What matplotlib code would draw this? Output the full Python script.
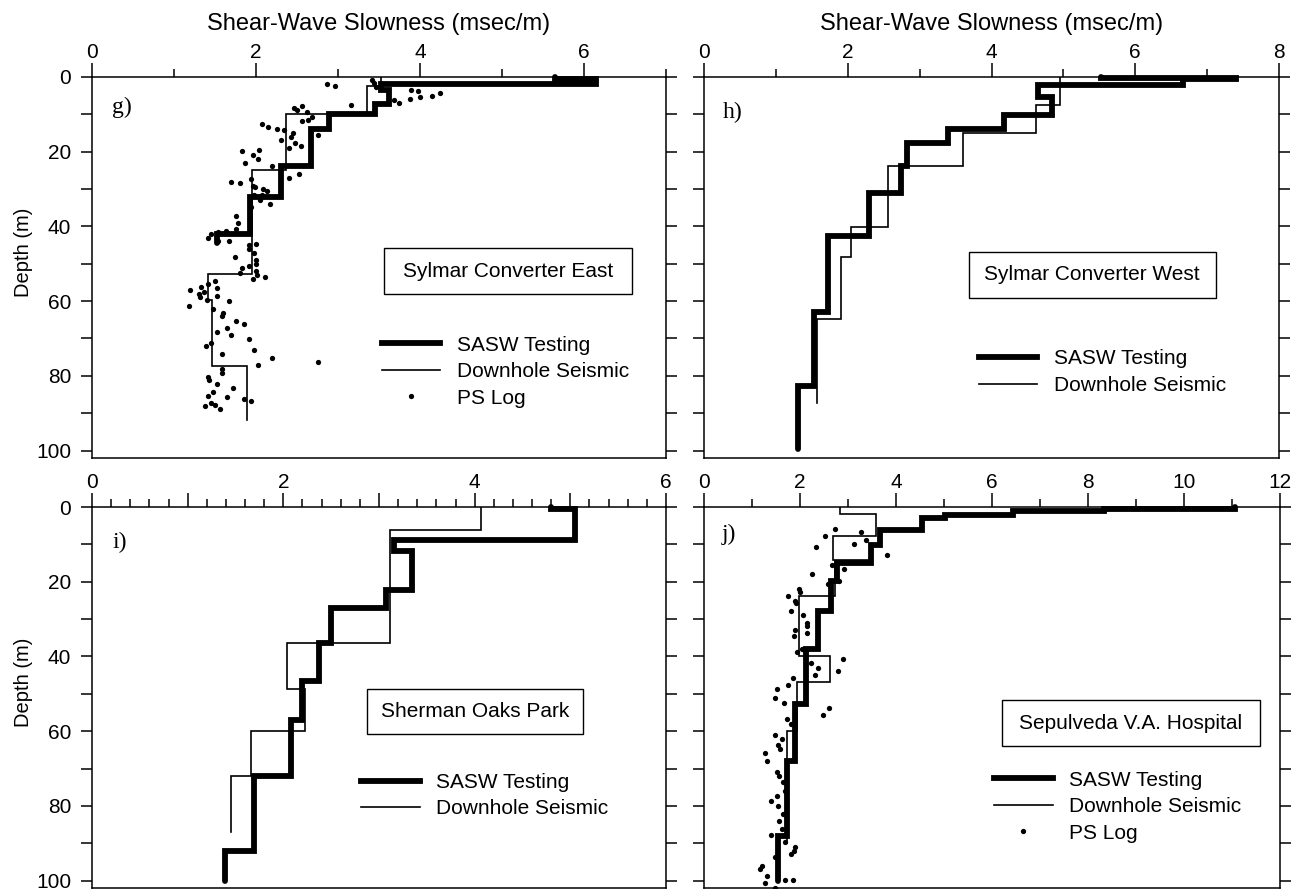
import numpy as np
import matplotlib
matplotlib.use('Agg')
import matplotlib.pyplot as plt
from matplotlib.patches import Rectangle
from matplotlib.lines import Line2D
from matplotlib.ticker import MultipleLocator, FuncFormatter

plt.rcParams['font.family'] = ['Liberation Sans', 'DejaVu Sans']

# ---- g) Sylmar Converter East ----
g_sasw_d = [0, 0.6, 2.0, 3.6, 7.3, 9.8, 13.8, 23.8, 32.1, 42.0, 44.4]
g_sasw_v = [5.65, 6.15, 3.52, 3.62, 3.45, 2.89, 2.67, 2.30, 1.93, 1.53]
g_dh_d = [0, 2.5, 9.8, 24.8, 52.7, 59.6, 77.5, 91.7]
g_dh_v = [3.52, 3.35, 2.36, 1.95, 1.41, 1.46, 1.89]
g_ps_x = [2.86, 2.96, 3.42, 3.44, 3.46, 3.89, 3.97, 4.00, 3.88, 4.15, 4.24, 3.68, 3.74, 3.16,
          2.46, 2.56, 2.50, 2.62, 2.68, 2.64, 2.56, 2.07, 2.15, 2.26, 2.34, 2.30, 2.45, 2.43,
          2.48, 2.55, 2.75, 2.40, 1.83, 2.04, 1.96, 2.03, 1.86, 2.19, 2.40, 2.53, 1.70, 1.80,
          1.94, 1.96, 1.99, 2.09, 2.14, 2.07, 1.97, 2.05, 2.17, 1.94,
          1.76, 1.78, 1.76, 1.63, 1.54, 1.45, 1.41, 1.67, 1.54, 1.91, 2.00, 1.91, 1.97, 1.74,
          2.00, 2.00, 1.83, 1.91, 1.80, 2.00, 2.01, 2.11, 1.96, 1.50, 1.42, 1.33, 1.19, 1.52,
          1.37, 1.30, 1.32, 1.40, 1.18, 1.53, 1.67, 1.48, 1.60, 1.58, 1.76, 1.85, 1.65, 1.53,
          1.70, 1.91, 1.39, 1.45, 1.98, 1.59, 2.19, 2.03, 2.75, 1.59, 1.59, 1.42, 1.43, 1.52,
          1.72, 1.47, 1.41, 1.65, 1.85, 1.94, 1.45, 1.50, 1.38, 1.56]
g_ps_d = [1.8, 2.3, 0.9, 1.6, 2.8, 3.4, 3.8, 5.4, 5.9, 5.0, 4.4, 6.2, 6.9, 7.4,
          8.3, 7.8, 8.9, 9.4, 10.7, 11.4, 11.9, 12.5, 13.4, 13.8, 14.3, 16.8, 15.0, 16.2,
          17.8, 18.5, 15.4, 18.9, 19.9, 19.5, 21.0, 22.0, 22.9, 23.9, 27.0, 25.9, 28.0, 28.5,
          27.4, 29.1, 29.5, 30.0, 30.5, 31.7, 31.7, 33.0, 34.0, 34.8,
          37.1, 39.0, 40.6, 41.1, 41.5, 42.0, 43.0, 43.9, 43.9, 45.1, 44.6, 46.0, 47.0, 48.1,
          49.1, 50.0, 51.1, 50.6, 52.6, 52.0, 52.9, 53.6, 54.2, 54.6, 55.4, 56.1, 57.1, 56.6,
          57.6, 58.2, 58.9, 59.6, 61.2, 58.7, 60.1, 62.0, 63.1, 64.0, 65.2, 66.2, 67.1, 68.2,
          69.2, 70.2, 72.1, 71.2, 73.2, 74.2, 75.2, 77.1, 76.2, 78.1, 79.2, 80.2, 81.2, 82.2,
          83.3, 84.3, 85.3, 85.7, 86.3, 86.8, 87.2, 87.7, 88.2, 88.8]

# ---- h) Sylmar Converter West ----
h_sasw_d = [0, 0.3, 0.6, 2.2, 5.3, 10.1, 13.8, 17.6, 23.9, 31.0, 42.7, 62.8, 82.8, 99.7]
h_sasw_v = [5.52, 7.40, 6.67, 4.65, 4.84, 4.18, 3.39, 2.82, 2.74, 2.29, 1.72, 1.53, 1.31]
h_dh_d = [0, 7.6, 15.0, 23.9, 40.1, 48.1, 64.7, 87.3]
h_dh_v = [4.95, 4.62, 3.60, 2.56, 2.04, 1.91, 1.57]

# ---- i) Sherman Oaks Park ----
i_sasw_d = [0, 0.4, 8.7, 11.7, 22.1, 27.0, 36.3, 46.6, 57.0, 72.0, 92.0, 100.0]
i_sasw_v = [4.80, 5.05, 3.16, 3.34, 3.07, 2.50, 2.37, 2.19, 2.08, 1.69, 1.39]
i_dh_d = [0, 6.1, 36.3, 48.8, 59.9, 72.0, 87.1]
i_dh_v = [4.07, 3.12, 2.04, 2.23, 1.66, 1.45]

# ---- j) Sepulveda V.A. Hospital ----
j_sasw_d = [0, 0.4, 1.0, 2.0, 2.9, 6.1, 10.1, 15.0, 19.9, 27.7, 37.9, 52.8, 67.9, 88.0, 100.0]
j_sasw_v = [11.07, 8.33, 6.44, 5.03, 4.54, 3.67, 3.48, 2.77, 2.64, 2.37, 2.13, 1.90, 1.72, 1.55]
j_dh_d = [0, 1.8, 7.8, 14.1, 15.0, 23.9, 39.9, 46.8, 59.9, 90.0]
j_dh_v = [2.83, 3.59, 2.69, 3.42, 2.72, 1.98, 2.63, 1.93, 1.74]
j_ps_x = [2.73, 3.28, 2.53, 3.38, 2.33, 3.13, 3.82, 2.92, 2.67, 2.25, 2.81, 2.59, 1.97, 2.01,
          1.75, 1.89, 1.91, 1.82, 2.06, 2.15, 2.14, 1.89, 2.15, 1.87, 1.93, 2.05, 2.89, 2.22,
          2.37, 2.31, 2.80, 1.85, 1.76, 1.52, 1.48, 1.67, 2.61, 2.49, 1.72, 1.82, 1.47, 1.62,
          1.55, 1.58, 1.28, 1.32, 1.52, 1.56, 1.64, 1.68, 1.52, 1.40, 1.55, 1.64, 1.56, 1.63,
          1.40, 1.68, 1.90, 1.87, 1.82, 1.47, 1.20, 1.16, 1.32, 1.28, 1.47, 1.68, 1.85]
j_ps_d = [5.8, 6.7, 7.8, 8.7, 10.8, 9.9, 12.8, 16.7, 15.6, 17.8, 19.9, 20.7, 21.9, 22.8,
          23.9, 25.2, 25.8, 27.9, 28.8, 31.0, 31.9, 32.8, 33.8, 34.6, 38.7, 37.9, 40.8, 41.7,
          43.0, 44.9, 43.9, 45.9, 47.7, 48.8, 51.0, 52.5, 53.9, 55.7, 56.8, 58.1, 61.0, 62.2,
          63.8, 64.8, 65.9, 67.9, 70.9, 72.0, 73.7, 76.0, 77.3, 78.6, 80.0, 82.2, 84.0, 86.2,
          87.8, 89.8, 91.1, 92.0, 92.9, 93.8, 96.0, 96.9, 98.7, 100.7, 102.0, 99.8, 99.8]

FS = 15


def profile(d, v):
    d = np.asarray(d)
    return np.repeat(v, 2), np.column_stack([d[:-1], d[1:]]).ravel()


def panel(ax, letter, site, sasw, dh, ps, xmax, xmajor, xminor, box, leg, ylab):
    x, y = profile(*sasw)
    ax.plot(x, y, color='black', lw=4.2, solid_joinstyle='miter',
            solid_capstyle='round', clip_on=False, zorder=3)
    x, y = profile(*dh)
    ax.plot(x, y, color='black', lw=1.2, solid_joinstyle='miter', zorder=2)
    handles = [Line2D([], [], color='black', lw=4.2, label='SASW Testing'),
               Line2D([], [], color='black', lw=1.2, label='Downhole Seismic')]
    if ps is not None:
        ax.plot(ps[0], ps[1], 'o', color='black', ms=3.8, mew=0, zorder=4)
        handles.append(Line2D([], [], color='black', ls='none', marker='o',
                              ms=3.8, mew=0, label='PS Log'))
    ax.set_xlim(0, xmax)
    ax.set_ylim(102, 0)
    ax.xaxis.tick_top()
    ax.xaxis.set_major_locator(MultipleLocator(xmajor))
    ax.xaxis.set_minor_locator(MultipleLocator(xminor))
    ax.xaxis.set_major_formatter(FuncFormatter(
        lambda val, p: '%d' % round(val) if round(val) % 2 == 0 else ''))
    ax.yaxis.set_major_locator(MultipleLocator(20))
    ax.yaxis.set_minor_locator(MultipleLocator(10))
    ax.tick_params(axis='x', which='major', direction='out', length=10, width=1.1,
                   pad=0.5, labelsize=FS)
    ax.tick_params(axis='x', which='minor', direction='out', length=6, width=1.1)
    ax.tick_params(axis='y', which='both', direction='out', length=8, width=1.1,
                   left=True, right=True, labelleft=ylab, labelsize=FS, pad=7)
    for s in ax.spines.values():
        s.set_linewidth(1.1)
    ax.text(letter[1], letter[2], letter[0], transform=ax.transAxes,
            family='Liberation Serif', fontsize=17, va='center', ha='left')
    x0, y0, x1, y1 = box
    ax.add_patch(Rectangle((x0, y0), x1 - x0, y1 - y0, transform=ax.transAxes,
                           fill=False, lw=1.0, ec='black'))
    ax.text((x0 + x1) / 2, (y0 + y1) / 2, site, transform=ax.transAxes,
            fontsize=FS, ha='center', va='center')
    ax.legend(handles=handles, loc='upper left', bbox_to_anchor=leg, frameon=False,
              borderpad=0, borderaxespad=0, handlelength=2.8, handletextpad=0.8,
              labelspacing=0.36, fontsize=FS, numpoints=1)
    if ylab:
        ax.set_ylabel('Depth (m)', fontsize=14.5)
        ax.yaxis.set_label_coords(-0.103, 0.54)


fig = plt.figure(figsize=(12.96, 8.9), dpi=100)
ax_g = fig.add_axes([0.0710, 0.4854, 0.4429, 0.4281])
ax_h = fig.add_axes([0.5432, 0.4854, 0.4437, 0.4281])
ax_i = fig.add_axes([0.0710, 0.0022, 0.4429, 0.4281])
ax_j = fig.add_axes([0.5432, 0.0022, 0.4444, 0.4281])

panel(ax_g, ('g)', 0.035, 0.921), 'Sylmar Converter East', (g_sasw_d, g_sasw_v),
      (g_dh_d, g_dh_v), (g_ps_x, g_ps_d), 7, 2, 1,
      (0.509, 0.430, 0.941, 0.551), (0.505, 0.321), True)
panel(ax_h, ('h)', 0.033, 0.906), 'Sylmar Converter West', (h_sasw_d, h_sasw_v),
      (h_dh_d, h_dh_v), None, 8, 2, 1,
      (0.460, 0.420, 0.890, 0.541), (0.478, 0.285), False)
panel(ax_i, ('i)', 0.035, 0.908), 'Sherman Oaks Park', (i_sasw_d, i_sasw_v),
      (i_dh_d, i_dh_v), None, 6, 1, 0.2,
      (0.479, 0.404, 0.855, 0.522), (0.469, 0.302), True)
panel(ax_j, ('j)', 0.030, 0.927), 'Sepulveda V.A. Hospital', (j_sasw_d, j_sasw_v),
      (j_dh_d, j_dh_v), (j_ps_x, j_ps_d), 12, 2, 1,
      (0.518, 0.373, 0.965, 0.493), (0.504, 0.308), False)

for ax in (ax_g, ax_h):
    ax.xaxis.set_label_position('top')
    ax.set_xlabel('Shear-Wave Slowness (msec/m)', fontsize=17, labelpad=10)

fig.savefig('out.png', dpi=100)
